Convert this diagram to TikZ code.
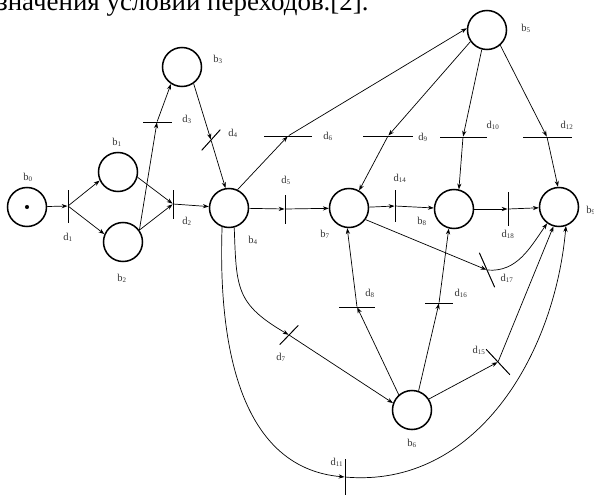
\documentclass[tikz,border=0pt]{standalone}
\usepackage{fontspec}
\setmainfont{Liberation Serif}
\usetikzlibrary{arrows.meta}

\begin{document}
\begin{tikzpicture}[x=0.03cm, y=-0.03cm,
  place/.style={circle, draw, line width=1.3pt, minimum size=1.17cm, inner sep=0pt},
  tok/.style={circle, fill, minimum size=3.5pt, inner sep=0pt},
  bar/.style={draw, fill, line width=0.6pt, inner sep=0pt, minimum width=0.2pt,
              minimum height=#1*0.03cm},
  arr/.style={-{Stealth[length=5pt, width=3.6pt]}, line width=0.6pt},
  lbl/.style={font=\fontsize{9}{10}\selectfont, text=black!80}
]
\useasboundingbox (0,0) rectangle (594,496);
\node[anchor=base west, font=\fontsize{23}{26}\selectfont] (cap) at (-7,10)
  {значения условий переходов.[2].};

% places
\node[place] (b0) at (27,207) {};
\node[tok] (m0) at (b0) {};
\node[place] (b1) at (118,172) {};
\node[place] (b2) at (123,242) {};
\node[place] (b3) at (182,67) {};
\node[place] (b4) at (229,208) {};
\node[place] (b5) at (487,30) {};
\node[place] (b6) at (412,410) {};
\node[place] (b7) at (349,208) {};
\node[place] (b8) at (454,209) {};
\node[place] (b9) at (559,207) {};

% transitions
\node[bar=32] (d1) at (68,206) {};
\node[bar=28] (d2) at (173,204) {};
\node[bar=28, rotate=90] (d3) at (157,122) {};
\node[bar=27, rotate=-42] (d4) at (211,140) {};
\node[bar=28] (d5) at (285,209) {};
\node[bar=47, rotate=90] (d6) at (288,136) {};
\node[bar=49, rotate=90] (d9) at (388,136) {};
\node[bar=46, rotate=90] (d10) at (463,137) {};
\node[bar=48, rotate=90] (d12) at (547,137) {};
\node[bar=31] (d14) at (395,206) {};
\node[bar=33] (d18) at (508,209) {};
\node[bar=37, rotate=24] (d17) at (487,270) {};
\node[bar=35, rotate=90] (d8) at (357,307) {};
\node[bar=27, rotate=90] (d16) at (439,303) {};
\node[bar=34, rotate=43] (d15) at (498,362) {};
\node[bar=26, rotate=-44] (d7) at (289,335) {};
\node[bar=35] (d11) at (345,477) {};

% labels
\node[lbl] (lb0) at (28,177) {b\textsubscript{0}};
\node[lbl] (lb1) at (117,142) {b\textsubscript{1}};
\node[lbl] (lb2) at (122,278) {b\textsubscript{2}};
\node[lbl] (lb3) at (218,59) {b\textsubscript{3}};
\node[lbl] (lb4) at (253,240) {b\textsubscript{4}};
\node[lbl] (lb5) at (526,28) {b\textsubscript{5}};
\node[lbl] (lb6) at (412,443) {b\textsubscript{6}};
\node[lbl] (lb7) at (325,234) {b\textsubscript{7}};
\node[lbl] (lb8) at (422,221) {b\textsubscript{8}};
\node[lbl] (lb9) at (591,210) {b\textsubscript{9}};
\node[lbl] (ld1) at (68,237) {d\textsubscript{1}};
\node[lbl] (ld2) at (187,221) {d\textsubscript{2}};
\node[lbl] (ld3) at (187,119) {d\textsubscript{3}};
\node[lbl] (ld4) at (233,133) {d\textsubscript{4}};
\node[lbl] (ld5) at (286,180) {d\textsubscript{5}};
\node[lbl] (ld6) at (328,136) {d\textsubscript{6}};
\node[lbl] (ld9) at (423,137) {d\textsubscript{9}};
\node[lbl] (ld10) at (493,125) {d\textsubscript{10}};
\node[lbl] (ld12) at (567,125) {d\textsubscript{12}};
\node[lbl] (ld14) at (400,178) {d\textsubscript{14}};
\node[lbl] (ld18) at (508,234) {d\textsubscript{18}};
\node[lbl] (ld17) at (507,278) {d\textsubscript{17}};
\node[lbl] (ld8) at (370,293) {d\textsubscript{8}};
\node[lbl] (ld16) at (461,293) {d\textsubscript{16}};
\node[lbl] (ld15) at (479,350) {d\textsubscript{15}};
\node[lbl] (ld7) at (281,357) {d\textsubscript{7}};
\node[lbl] (ld11) at (337,462) {d\textsubscript{11}};

% arcs
\foreach \a/\b in {b0/d1, d1/b1.205, d1/b2.157, b1.-15/d2, b2.36/d2, d2/b4,
    b2.36/d3, d3/b3.237, b3.-55/d4, d4/b4.100, b4.65/d6, d6/b5.175,
    b5.215/d9, d9/b7.60, b5.255/d10, d10/b8.76, b5.-49/d12, d12/b9.93,
    b4/d5, d5/b7, b7/d14, d14/b8, b8/d18, d18/b9, b7.-35/d17, d7/b6.160,
    b6.131/d8, d8/b7.-95, b6.71/d16, d16/b8.-105, b6.33/d15, d15/b9.254}
  \draw[arr] (\a)--(\b);
\draw[arr] (d17) to[out=-5, in=235] (b9.234);
\draw[arr] (b4.-75) to[out=-88, in=150, looseness=1.3] (d7);
\draw[arr] (b4.-110) to[out=-92, in=175] (d11);
\draw[arr] (d11) to[out=-5, in=-95] (b9.290);
\end{tikzpicture}
\end{document}
